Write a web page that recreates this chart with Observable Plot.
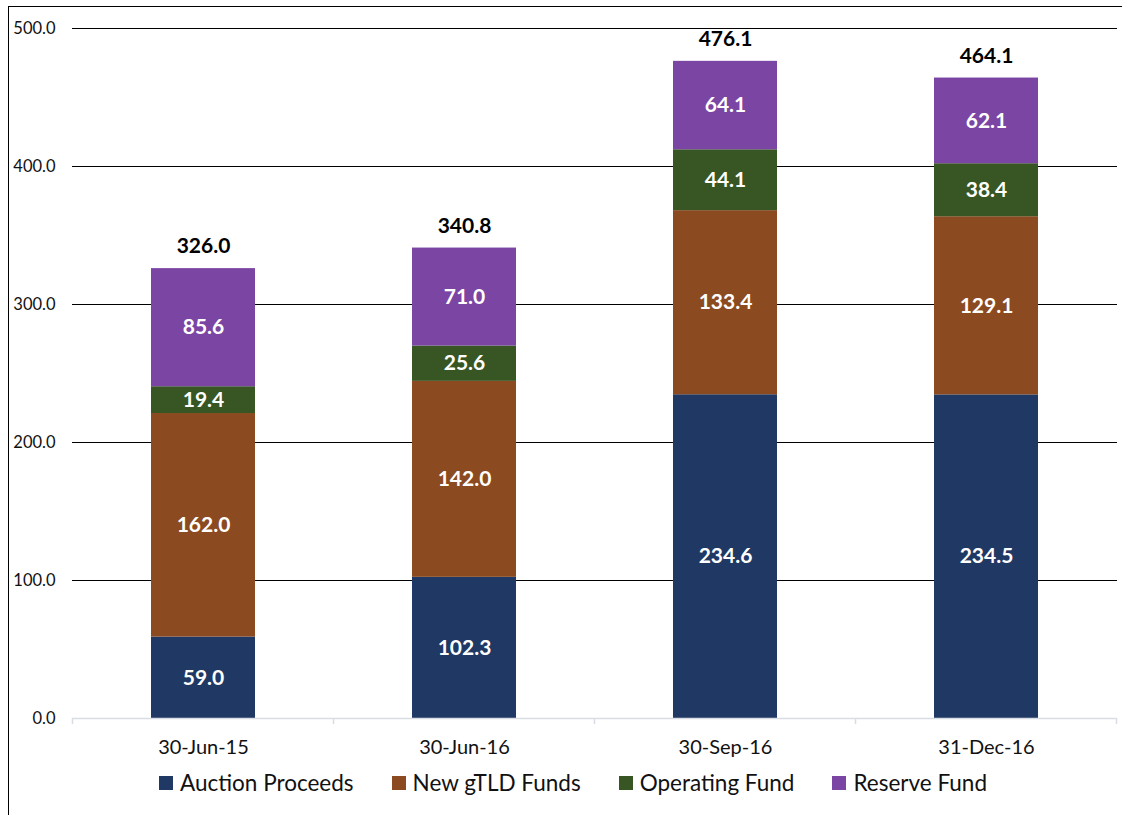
<!DOCTYPE html>
<html><head><meta charset="utf-8">
<script src="https://cdn.jsdelivr.net/npm/d3@7"></script>
<script src="https://cdn.jsdelivr.net/npm/@observablehq/plot@0.6"></script>
<style>
body{margin:0;background:#fff;font-family:Lato,"Open Sans",sans-serif;}
#wrap{position:relative;width:1122px;height:815px;overflow:hidden;}
#frame{position:absolute;left:8px;top:6px;width:1200px;height:900px;border-left:1.5px solid #000;border-top:1.5px solid #000;}
#chart{position:absolute;left:0;top:0;}
#legend{position:absolute;left:0;top:769px;width:1122px;display:flex;justify-content:center;gap:38px;font-size:22.5px;color:#111;padding-left:24px;box-sizing:border-box;}
#legend span.it{display:flex;align-items:center;gap:7px;}
#legend span.sw{display:inline-block;width:14px;height:14px;}
</style></head>
<body><div id="wrap"><div id="frame"></div><div id="chart"></div><div id="legend"></div></div>
<script>
const categories = ["30-Jun-15","30-Jun-16","30-Sep-16","31-Dec-16"];
const seriesNames = ["Auction Proceeds","New gTLD Funds","Operating Fund","Reserve Fund"];
const auction = [59.0,102.3,234.6,234.5];
const gtld = [162.0,142.0,133.4,129.1];
const operating = [19.4,25.6,44.1,38.4];
const reserve = [85.6,71.0,64.1,62.1];
const totals = [326.0,340.8,476.1,464.1];
const colors = ["#203864","#8b4a1f","#375623","#7b45a4"];
const yTicks = [0,100,200,300,400,500];

const seriesVals = [auction,gtld,operating,reserve];
const rows = [];
seriesNames.forEach((s,si)=>categories.forEach((c,ci)=>rows.push({cat:c,series:s,value:seriesVals[si][ci]})));
const totalRows = categories.map((c,i)=>({cat:c,total:totals[i]}));

const chart = Plot.plot({
  width:1122, height:765,
  marginLeft:72, marginRight:5, marginTop:28, marginBottom:47,
  style:{fontFamily:"Lato, 'Open Sans', sans-serif", background:"transparent"},
  x:{domain:categories, paddingInner:0.6, paddingOuter:0.3, label:null},
  y:{domain:[0,500], label:null},
  color:{domain:seriesNames, range:colors},
  marks:[
    Plot.ruleY(yTicks.filter(d=>d>0), {stroke:"#000", strokeWidth:1.2}),
    Plot.barY(rows, {x:"cat", y:"value", fill:"series", order:seriesNames}),
    Plot.ruleY([0], {stroke:"#d9dde3", strokeWidth:1.5}),
    Plot.text(rows, Plot.stackY({x:"cat", y:"value", z:"series", order:seriesNames, text:d=>d.value.toFixed(1), fill:"#fff", fontWeight:"bold", fontSize:21})),
    Plot.text(totalRows, {x:"cat", y:"total", text:d=>d.total.toFixed(1), dy:-22, fill:"#000", fontWeight:"bold", fontSize:21}),
    Plot.axisY({ticks:yTicks, tickFormat:d=>d.toFixed(1), tickSize:0, tickPadding:17, fontSize:16.5, color:"#111"}),
    Plot.axisX({tickSize:0, tickPadding:21, fontSize:20, color:"#111"})
  ]
});
document.getElementById("chart").appendChild(chart);

// category boundary ticks on the x axis, positioned from the library's scales
const xs = chart.scale("x"), ys = chart.scale("y");
const y0 = ys.apply(0);
const step = xs.step;
const bounds = categories.map(c=>xs.apply(c) + xs.bandwidth/2 - step/2);
bounds.push(bounds[bounds.length-1] + step);
const svg = d3.select(chart);
svg.append("g").selectAll("line").data(bounds).join("line")
  .attr("x1",d=>d).attr("x2",d=>d).attr("y1",y0).attr("y2",y0+6)
  .attr("stroke","#d9dde3").attr("stroke-width",1.5);

const leg = d3.select("#legend");
seriesNames.forEach((s,i)=>{
  const it = leg.append("span").attr("class","it");
  it.append("span").attr("class","sw").style("background",colors[i]);
  it.append("span").text(s);
});
</script></body></html>
